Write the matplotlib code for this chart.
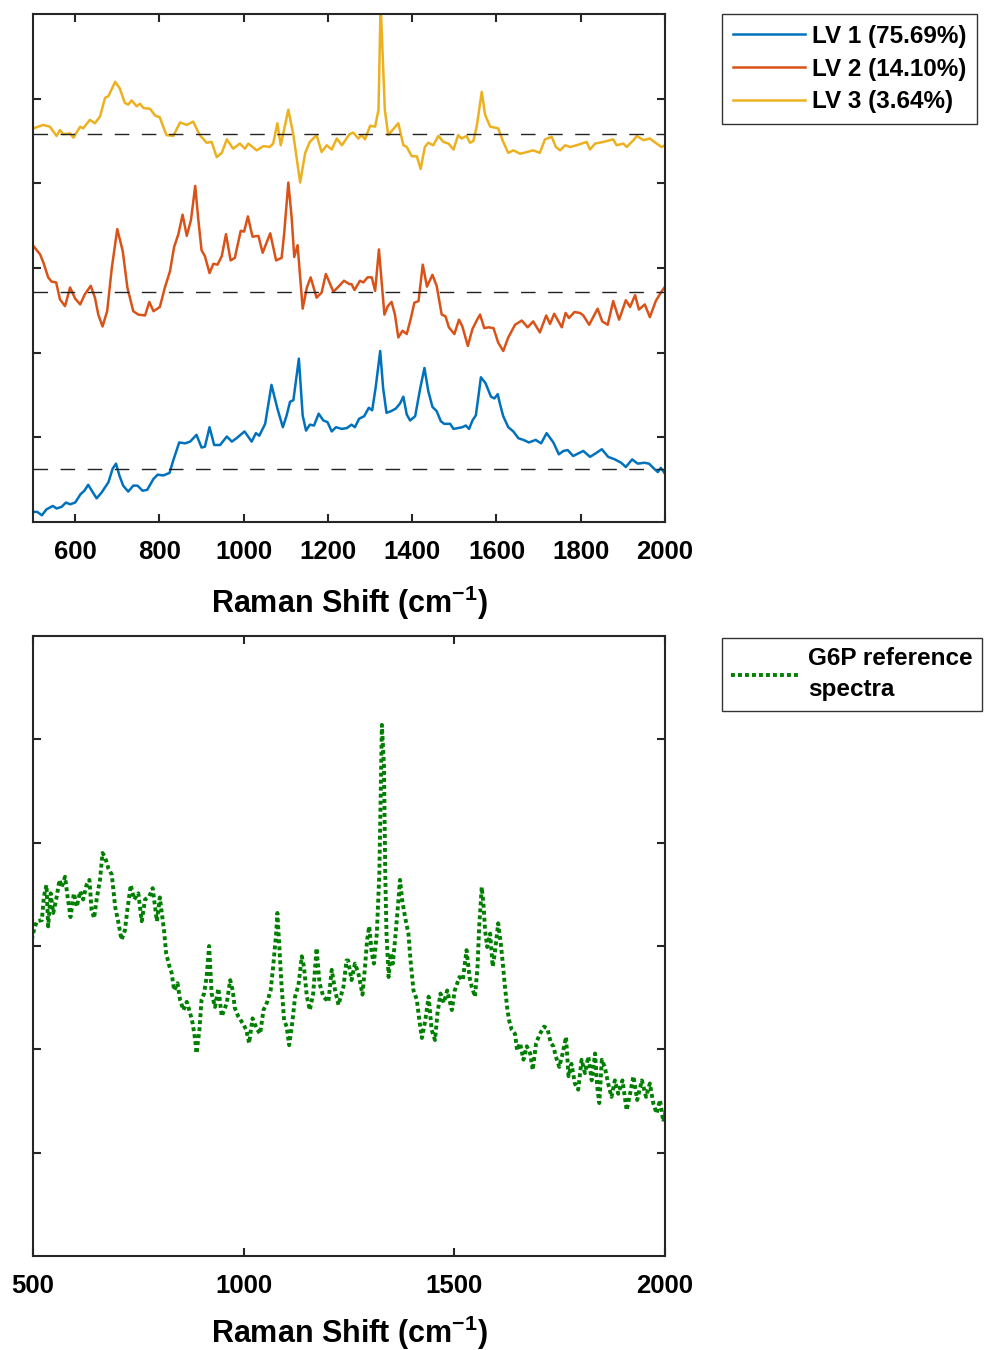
import matplotlib
matplotlib.use('Agg')
import matplotlib.pyplot as plt

plt.rcParams['font.family'] = ['Liberation Sans', 'DejaVu Sans']
plt.rcParams['font.weight'] = 'bold'
plt.rcParams['mathtext.fontset'] = 'custom'
plt.rcParams['mathtext.bf'] = 'Liberation Sans:bold'
plt.rcParams['mathtext.rm'] = 'Liberation Sans:bold'

# LV loadings (relative to their own zero line)
lv1_x = [501, 510, 521, 532, 547, 556, 568, 578, 588, 600, 613, 622, 631, 642, 651, 663, 679, 689, 697, 705,
         714, 726, 738, 748, 760, 771, 786, 796, 809, 824, 833, 847, 861, 873, 888, 900, 908, 919, 930, 944,
         960, 972, 983, 1002, 1019, 1029, 1037, 1051, 1066, 1080, 1093, 1102, 1110, 1118, 1131, 1140, 1148, 1157, 1167, 1178,
         1189, 1199, 1209, 1219, 1233, 1245, 1256, 1264, 1274, 1286, 1297, 1305, 1313, 1324, 1331, 1339, 1350, 1361, 1371, 1379,
         1387, 1395, 1407, 1419, 1429, 1438, 1448, 1458, 1468, 1476, 1490, 1498, 1508, 1519, 1527, 1535, 1543, 1551, 1557, 1563,
         1574, 1587, 1595, 1603, 1608, 1616, 1628, 1640, 1652, 1664, 1677, 1693, 1706, 1719, 1735, 1748, 1759, 1769, 1782, 1794,
         1806, 1822, 1835, 1850, 1865, 1881, 1896, 1907, 1922, 1935, 1951, 1962, 1972, 1983, 1990, 2000]
lv1_y = [-0.51, -0.51, -0.55, -0.48, -0.44, -0.47, -0.45, -0.40, -0.42, -0.40, -0.30, -0.26, -0.19, -0.28, -0.35, -0.28, -0.16, 0.00, 0.06, -0.08,
         -0.20, -0.27, -0.20, -0.20, -0.26, -0.25, -0.12, -0.07, -0.08, -0.05, 0.10, 0.31, 0.30, 0.32, 0.40, 0.25, 0.26, 0.49, 0.28, 0.28,
         0.38, 0.32, 0.36, 0.44, 0.32, 0.42, 0.39, 0.53, 0.99, 0.71, 0.49, 0.63, 0.79, 0.81, 1.30, 0.63, 0.45, 0.52, 0.51, 0.65,
         0.57, 0.55, 0.44, 0.49, 0.47, 0.48, 0.52, 0.49, 0.59, 0.62, 0.72, 0.69, 0.95, 1.39, 0.95, 0.66, 0.68, 0.71, 0.77, 0.85,
         0.64, 0.57, 0.62, 0.95, 1.19, 0.92, 0.73, 0.68, 0.56, 0.53, 0.53, 0.47, 0.48, 0.49, 0.51, 0.47, 0.57, 0.63, 0.85, 1.08,
         1.01, 0.85, 0.83, 0.88, 0.77, 0.62, 0.49, 0.44, 0.36, 0.34, 0.31, 0.34, 0.30, 0.42, 0.31, 0.17, 0.21, 0.22, 0.15, 0.18,
         0.21, 0.14, 0.18, 0.23, 0.14, 0.11, 0.07, 0.02, 0.11, 0.06, 0.07, 0.06, 0.01, -0.04, 0.01, -0.06]

lv2_x = [501, 517, 525, 536, 544, 555, 564, 576, 588, 600, 612, 623, 637, 647, 655, 665, 676, 687, 700, 713,
         724, 738, 750, 766, 776, 786, 801, 813, 825, 835, 845, 855, 865, 875, 885, 892, 900, 908, 919, 928,
         938, 948, 958, 969, 979, 993, 1001, 1010, 1021, 1035, 1045, 1063, 1077, 1090, 1096, 1106, 1114, 1120, 1128, 1140,
         1150, 1159, 1173, 1185, 1195, 1213, 1225, 1238, 1251,
         1256, 1263, 1276, 1284, 1294, 1304, 1312, 1321, 1328, 1334, 1342, 1351, 1359, 1367, 1377, 1387, 1397, 1405, 1415, 1425,
         1435, 1448, 1458, 1470, 1479, 1487, 1500, 1511, 1519, 1532, 1543, 1553, 1561, 1571, 1581, 1593, 1604, 1616, 1628, 1644,
         1660, 1674, 1687, 1703, 1718, 1727, 1737, 1755, 1764, 1772, 1785, 1798, 1806, 1820, 1840, 1851, 1864, 1877, 1891, 1907,
         1917, 1929, 1938, 1952, 1964, 1978, 1990, 2000]
lv2_y = [0.54, 0.44, 0.34, 0.17, 0.12, 0.11, -0.09, -0.17, 0.05, -0.08, -0.15, -0.03, 0.07, -0.07, -0.27, -0.41, -0.23, 0.28, 0.74, 0.48,
         0.05, -0.23, -0.27, -0.28, -0.12, -0.23, -0.18, 0.05, 0.24, 0.53, 0.68, 0.91, 0.66, 0.85, 1.25, 0.87, 0.49, 0.42, 0.22, 0.33,
         0.32, 0.42, 0.68, 0.37, 0.40, 0.72, 0.71, 0.89, 0.65, 0.66, 0.46, 0.69, 0.37, 0.40, 0.68, 1.29, 0.87, 0.41, 0.55, -0.20,
         0.05, 0.17, -0.07, -0.01, 0.21, 0.00, 0.06, 0.13, 0.09,
         0.09, 0.02, 0.13, 0.11, 0.17, 0.17, 0.01, 0.50, 0.09, -0.27, -0.17, -0.12, -0.27, -0.54, -0.46, -0.50, -0.31, -0.13, -0.11, 0.32,
         0.06, 0.20, 0.07, -0.27, -0.29, -0.42, -0.50, -0.33, -0.41, -0.64, -0.44, -0.34, -0.27, -0.43, -0.42, -0.43, -0.60, -0.70, -0.54, -0.39,
         -0.34, -0.42, -0.35, -0.48, -0.28, -0.38, -0.26, -0.42, -0.25, -0.31, -0.24, -0.25, -0.28, -0.39, -0.20, -0.35, -0.39, -0.11, -0.33, -0.10,
         -0.18, -0.04, -0.21, -0.15, -0.30, -0.11, -0.01, 0.06]

lv3_x = [501, 524, 540, 556, 564, 572, 588, 596, 612, 619, 635, 647, 659, 671, 679, 695, 706, 718, 726, 734,
         746, 754, 762, 778, 790, 801, 809, 817, 833, 849, 865, 880, 896, 912, 924, 936, 948, 960, 975, 991,
         1003, 1011, 1031, 1047, 1062, 1070, 1080, 1088, 1106, 1118, 1134, 1146, 1157, 1173, 1185, 1197, 1209, 1221, 1233, 1251,
         1260, 1272, 1280, 1288, 1300, 1312, 1320, 1325, 1335, 1343, 1355, 1367, 1379, 1387, 1399, 1411, 1420, 1430, 1438, 1450,
         1462, 1474, 1486, 1498, 1509, 1517, 1529, 1537, 1545, 1553, 1565, 1573, 1585, 1604, 1616, 1628, 1640, 1656, 1672, 1687,
         1703, 1715, 1731, 1741, 1751, 1763, 1775, 1790, 1814, 1822, 1834, 1854, 1877, 1885, 1901, 1909, 1925, 1933, 1949, 1964,
         1980, 1992, 2000]
lv3_y = [0.07, 0.11, 0.09, -0.02, 0.05, 0.00, 0.01, -0.04, 0.09, 0.07, 0.17, 0.13, 0.21, 0.43, 0.45, 0.62, 0.54, 0.37, 0.35, 0.40,
         0.33, 0.36, 0.31, 0.30, 0.22, 0.20, 0.09, -0.01, -0.02, 0.14, 0.11, 0.15, -0.01, -0.10, -0.09, -0.27, -0.22, -0.06, -0.17, -0.11,
         -0.17, -0.11, -0.19, -0.14, -0.15, -0.11, 0.13, -0.13, 0.29, -0.01, -0.57, -0.22, -0.09, -0.01, -0.21, -0.13, -0.18, -0.05, -0.13, 0.00,
         0.02, -0.05, -0.01, -0.06, 0.10, 0.09, 0.29, 1.55, 0.29, -0.01, 0.06, 0.13, -0.13, -0.15, -0.26, -0.26, -0.41, -0.15, -0.10, -0.13,
         -0.02, -0.09, -0.11, -0.18, -0.01, -0.05, -0.02, -0.10, -0.08, 0.09, 0.50, 0.23, 0.09, 0.07, -0.09, -0.22, -0.19, -0.23, -0.21, -0.19,
         -0.22, -0.06, -0.03, -0.15, -0.19, -0.13, -0.15, -0.13, -0.09, -0.18, -0.11, -0.09, -0.06, -0.13, -0.11, -0.15, -0.07, -0.02, -0.07, -0.05,
         -0.11, -0.15, -0.13]

lv_labels = ['LV 1 (75.69%)', 'LV 2 (14.10%)', 'LV 3 (3.64%)']
lv_offsets = [0.63, 2.72, 4.58]
lv_colors = ['#0072BD', '#D95319', '#EDB120']

# G6P reference spectrum (noisy, read as alternating envelope points)
g6p_x = [497, 502, 509, 521, 526, 532, 536, 542, 548, 555, 563, 568, 576, 582, 589, 597, 604, 612, 619, 627,
         634, 639, 645, 651, 659, 665, 671, 679, 687, 695, 703, 710, 718, 724, 732, 740, 750, 758, 766, 776,
         784, 794, 801, 811, 816, 824, 829, 835, 843, 849, 857, 865, 873, 879, 885, 888, 895, 900, 906, 912,
         918, 924, 932, 940, 948, 960, 968, 974, 979, 987, 998, 1006, 1013, 1021, 1031, 1039, 1047, 1056, 1064, 1070,
         1077, 1080, 1085, 1090, 1096, 1102, 1108, 1116, 1122, 1130, 1138, 1143, 1150, 1157, 1165, 1173, 1180, 1189, 1201, 1209,
         1217, 1225, 1237, 1244, 1248, 1256, 1264, 1272, 1282, 1288, 1293, 1298, 1304, 1309, 1316, 1322, 1325, 1328, 1333, 1336,
         1339, 1344, 1349, 1354, 1360, 1366, 1371, 1376, 1383, 1391, 1396, 1403, 1411, 1417, 1423, 1431, 1439, 1446, 1454, 1460,
         1467, 1475, 1483, 1494, 1501, 1512, 1520, 1529, 1536, 1541, 1549, 1555, 1559, 1565, 1569, 1573, 1578, 1585, 1591, 1596,
         1604, 1610, 1615, 1620, 1626, 1630, 1636, 1644, 1649, 1656, 1664, 1672, 1680, 1686, 1694, 1703, 1713, 1721, 1729, 1735,
         1741, 1749, 1757, 1765, 1771, 1778, 1786, 1794, 1802, 1810, 1818, 1826, 1834, 1839, 1844, 1850, 1857, 1865, 1873, 1881,
         1889, 1899, 1909, 1917, 1925, 1934, 1945, 1955, 1964, 1972, 1980, 1988, 1996, 2002]
g6p_y = [3.06, 3.15, 3.24, 3.25, 3.48, 3.59, 3.19, 3.51, 3.32, 3.45, 3.64, 3.57, 3.67, 3.48, 3.28, 3.51, 3.38, 3.53, 3.45, 3.59,
         3.64, 3.35, 3.27, 3.45, 3.64, 3.90, 3.86, 3.75, 3.69, 3.38, 3.22, 3.06, 3.15, 3.35, 3.59, 3.45, 3.51, 3.24, 3.45, 3.48,
         3.56, 3.24, 3.47, 3.15, 2.93, 2.80, 2.74, 2.57, 2.64, 2.48, 2.38, 2.46, 2.35, 2.25, 2.09, 1.96, 2.19, 2.48, 2.54, 2.70,
         3.00, 2.54, 2.41, 2.59, 2.32, 2.45, 2.67, 2.57, 2.40, 2.32, 2.25, 2.19, 2.06, 2.30, 2.20, 2.15, 2.38, 2.46, 2.57, 2.80,
         3.12, 3.32, 2.96, 2.61, 2.28, 2.22, 2.04, 2.28, 2.51, 2.62, 2.90, 2.80, 2.51, 2.38, 2.54, 2.98, 2.64, 2.51, 2.46, 2.77,
         2.57, 2.43, 2.61, 2.86, 2.86, 2.67, 2.83, 2.74, 2.53, 2.80, 3.06, 3.19, 2.93, 2.83, 3.12, 3.70, 4.41, 5.14, 4.74, 3.70,
         3.12, 2.70, 2.93, 2.83, 3.09, 3.38, 3.64, 3.45, 3.28, 3.12, 2.86, 2.57, 2.48, 2.28, 2.11, 2.28, 2.51, 2.19, 2.09, 2.35,
         2.54, 2.45, 2.57, 2.38, 2.57, 2.70, 2.67, 2.96, 2.70, 2.61, 2.51, 2.80, 3.19, 3.57, 3.41, 3.15, 2.99, 3.12, 2.80, 2.93,
         3.22, 3.03, 2.83, 2.61, 2.38, 2.28, 2.19, 2.15, 1.99, 2.06, 1.90, 2.03, 1.96, 1.80, 2.06, 2.15, 2.22, 2.20, 2.06, 2.03,
         1.93, 1.83, 1.96, 2.12, 1.74, 1.86, 1.67, 1.61, 1.90, 1.77, 1.93, 1.70, 1.96, 1.64, 1.48, 1.90, 1.83, 1.67, 1.54, 1.70,
         1.57, 1.70, 1.41, 1.57, 1.74, 1.51, 1.70, 1.54, 1.67, 1.48, 1.38, 1.51, 1.30, 1.41]

fig = plt.figure(figsize=(9.88, 13.5), dpi=100)
ax1 = fig.add_axes([0.0334, 0.6133, 0.6397, 0.3763])
ax2 = fig.add_axes([0.0334, 0.0696, 0.6397, 0.4593])

# top panel: offset loadings with zero lines
lv_series = [(lv1_x, lv1_y), (lv2_x, lv2_y), (lv3_x, lv3_y)]
for (xs, ys), off, col, lab in zip(lv_series, lv_offsets, lv_colors, lv_labels):
    ax1.plot(xs, [v + off for v in ys], color=col, lw=1.8, label=lab)
for off in lv_offsets:
    ax1.axhline(off, color='#222222', lw=1.0, dashes=(10.5, 9))

# bottom panel: G6P reference
ax2.plot(g6p_x, g6p_y, color='#007F00', lw=2.8, dashes=(1, 0.8), label='G6P reference\nspectra')

for ax, ticks, lpad in [(ax1, [600, 800, 1000, 1200, 1400, 1600, 1800, 2000], 14), (ax2, [500, 1000, 1500, 2000], 11)]:
    ax.set_xlim(500, 2000)
    ax.set_ylim(0, 6)
    ax.set_xticks(ticks)
    ax.set_yticks([1, 2, 3, 4, 5])
    ax.set_yticklabels([])
    ax.tick_params(direction='in', length=6, width=1.5, top=True, right=True,
                   labelsize=18.5, pad=13, colors='#262626', labelcolor='black')
    for lbl in ax.get_xticklabels():
        lbl.set_fontweight('bold')
    for sp in ax.spines.values():
        sp.set_linewidth(1.5)
        sp.set_color('#262626')
    ax.set_xlabel('Raman Shift (cm$^{\\mathbf{-1}}$)', fontsize=22, fontweight='bold', labelpad=lpad)

leg1 = ax1.legend(loc='upper left', bbox_to_anchor=(0.7308, 0.9896), bbox_transform=fig.transFigure,
                  borderaxespad=0, fancybox=False, edgecolor='#333333', framealpha=1,
                  prop={'size': 17.5, 'weight': 'bold'}, handlelength=2.95, handletextpad=0.3,
                  labelspacing=0.4, borderpad=0.45)
leg1.get_frame().set_linewidth(1.0)

leg2 = ax2.legend(loc='upper left', bbox_to_anchor=(0.7308, 0.5274), bbox_transform=fig.transFigure,
                  borderaxespad=0, fancybox=False, edgecolor='#333333', framealpha=1,
                  prop={'size': 17.5, 'weight': 'bold'}, handlelength=2.85, handletextpad=0.3,
                  borderpad=0.38)
leg2.get_frame().set_linewidth(1.0)
for t in leg2.get_texts():
    t.set_linespacing(1.45)

fig.savefig('out.png', dpi=100)
